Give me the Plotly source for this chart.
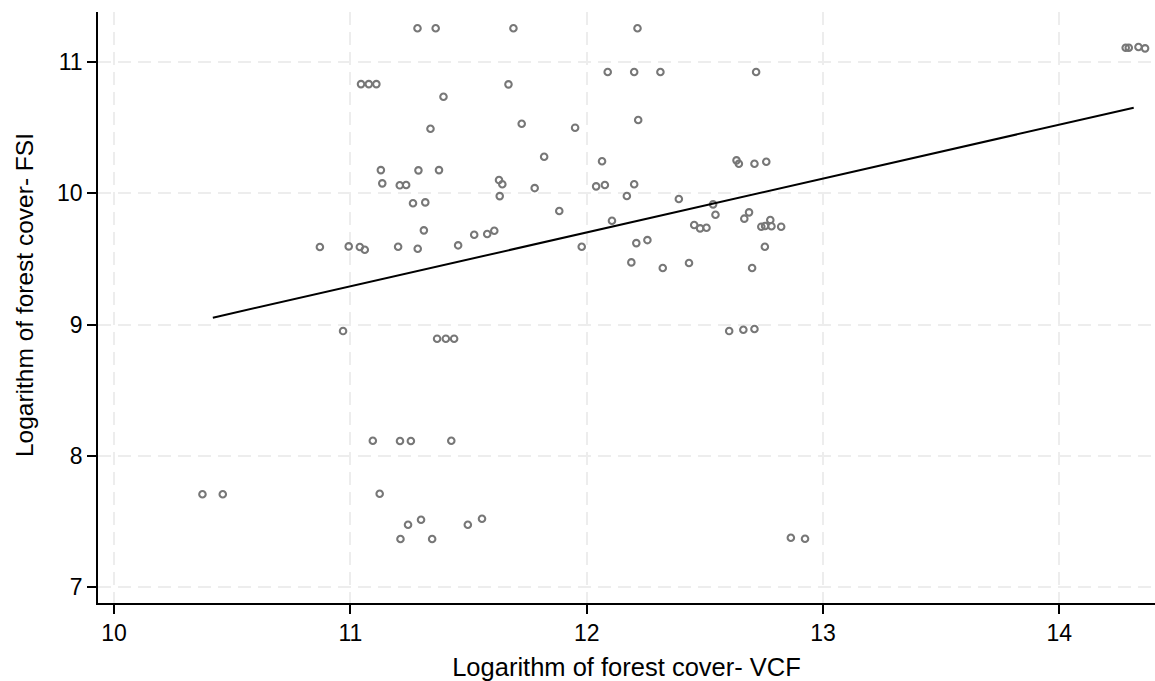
import plotly.graph_objects as go

# Log forest cover: VCF (x) vs FSI (y)
vcf = [
    11.284, 11.361, 11.045, 11.078, 11.110, 11.394, 11.339, 11.129, 11.288, 11.375,
    11.135, 11.209, 11.236, 11.265, 11.317, 11.311, 11.524, 11.579, 10.871, 10.993,
    11.040, 11.061, 11.202, 11.285, 11.456, 11.690, 12.215, 12.089, 12.201, 12.312,
    12.717, 11.669, 11.725, 12.218, 11.951, 11.820, 12.065, 12.634, 12.644, 12.710,
    12.760, 11.629, 11.643, 11.780, 12.040, 12.077, 12.170, 12.201, 11.632, 12.390,
    12.535, 11.884, 12.545, 12.687, 12.667, 12.777, 12.107, 12.455, 12.480, 12.507,
    12.739, 12.755, 12.782, 12.823, 11.609, 11.979, 12.210, 12.257, 12.754, 12.189,
    12.322, 12.433, 12.700, 14.281, 14.294, 14.335, 14.363, 10.969, 11.367, 11.404,
    11.439, 11.095, 11.210, 11.256, 11.427, 10.374, 10.460, 11.124, 11.244, 11.299,
    11.212, 11.346, 11.497, 11.557, 12.603, 12.663, 12.710, 12.864, 12.924,
]
fsi = [
    11.257, 11.257, 10.832, 10.832, 10.832, 10.736, 10.492, 10.177, 10.175, 10.177,
    10.076, 10.061, 10.063, 9.924, 9.931, 9.718, 9.685, 9.690, 9.591, 9.596,
    9.591, 9.570, 9.593, 9.578, 9.604, 11.257, 11.257, 10.924, 10.924, 10.924,
    10.924, 10.830, 10.530, 10.558, 10.500, 10.279, 10.244, 10.251, 10.225, 10.225,
    10.241, 10.101, 10.069, 10.040, 10.053, 10.063, 9.980, 10.069, 9.979, 9.957,
    9.916, 9.865, 9.837, 9.855, 9.807, 9.797, 9.791, 9.759, 9.733, 9.738,
    9.746, 9.751, 9.749, 9.746, 9.715, 9.593, 9.621, 9.644, 9.593, 9.474,
    9.431, 9.469, 9.431, 11.109, 11.109, 11.114, 11.104, 8.951, 8.893, 8.893,
    8.893, 8.116, 8.114, 8.114, 8.116, 7.708, 7.708, 7.712, 7.476, 7.514,
    7.367, 7.367, 7.476, 7.522, 8.951, 8.961, 8.967, 7.377, 7.369,
]

# Linear fit line endpoints
fit_x = [10.418, 14.315]
fit_y = [9.053, 10.652]

x_ticks = [10, 11, 12, 13, 14]
y_ticks = [7, 8, 9, 10, 11]

FONT = "Liberation Sans, Arial, sans-serif"

fig = go.Figure()
fig.add_trace(go.Scatter(
    x=vcf, y=fsi, mode="markers",
    marker=dict(symbol="circle-open", size=6.5, color="#777777",
                line=dict(width=2.1, color="#777777")),
    showlegend=False, hoverinfo="skip",
))
fig.add_trace(go.Scatter(
    x=fit_x, y=fit_y, mode="lines",
    line=dict(color="black", width=2),
    showlegend=False, hoverinfo="skip",
))

grid = dict(showgrid=True, gridcolor="#ededed", gridwidth=2, griddash="13px,7px")
fig.update_xaxes(
    range=[9.932, 14.405], tickvals=x_ticks, ticktext=[str(v) for v in x_ticks],
    showline=True, linecolor="black", linewidth=1.5, zeroline=False,
    ticks="outside", ticklen=9, tickwidth=1.5, tickcolor="black",
    tickfont=dict(family=FONT, size=23, color="black"),
    title=dict(text="Logarithm of forest cover- VCF",
               font=dict(family=FONT, size=25.5, color="black"), standoff=13),
    **grid,
)
fig.update_yaxes(
    range=[6.880, 11.381], tickvals=y_ticks, ticktext=[str(v) for v in y_ticks],
    showline=True, linecolor="black", linewidth=1.5, zeroline=False,
    ticks="outside", ticklen=9, tickwidth=1.5, tickcolor="black",
    tickfont=dict(family=FONT, size=23, color="black"),
    **grid,
)
# Vertical axis title placed as a rotated annotation
fig.add_annotation(
    text="Logarithm of forest cover- FSI", textangle=-90,
    xref="paper", yref="paper", x=-0.070, y=0.521,
    xanchor="center", yanchor="middle", showarrow=False,
    font=dict(family=FONT, size=24.5, color="black"),
)
fig.update_layout(
    width=1155, height=681,
    margin=dict(l=98, r=0, t=12, b=78),
    plot_bgcolor="white", paper_bgcolor="white",
)

fig.write_html("out.html")
